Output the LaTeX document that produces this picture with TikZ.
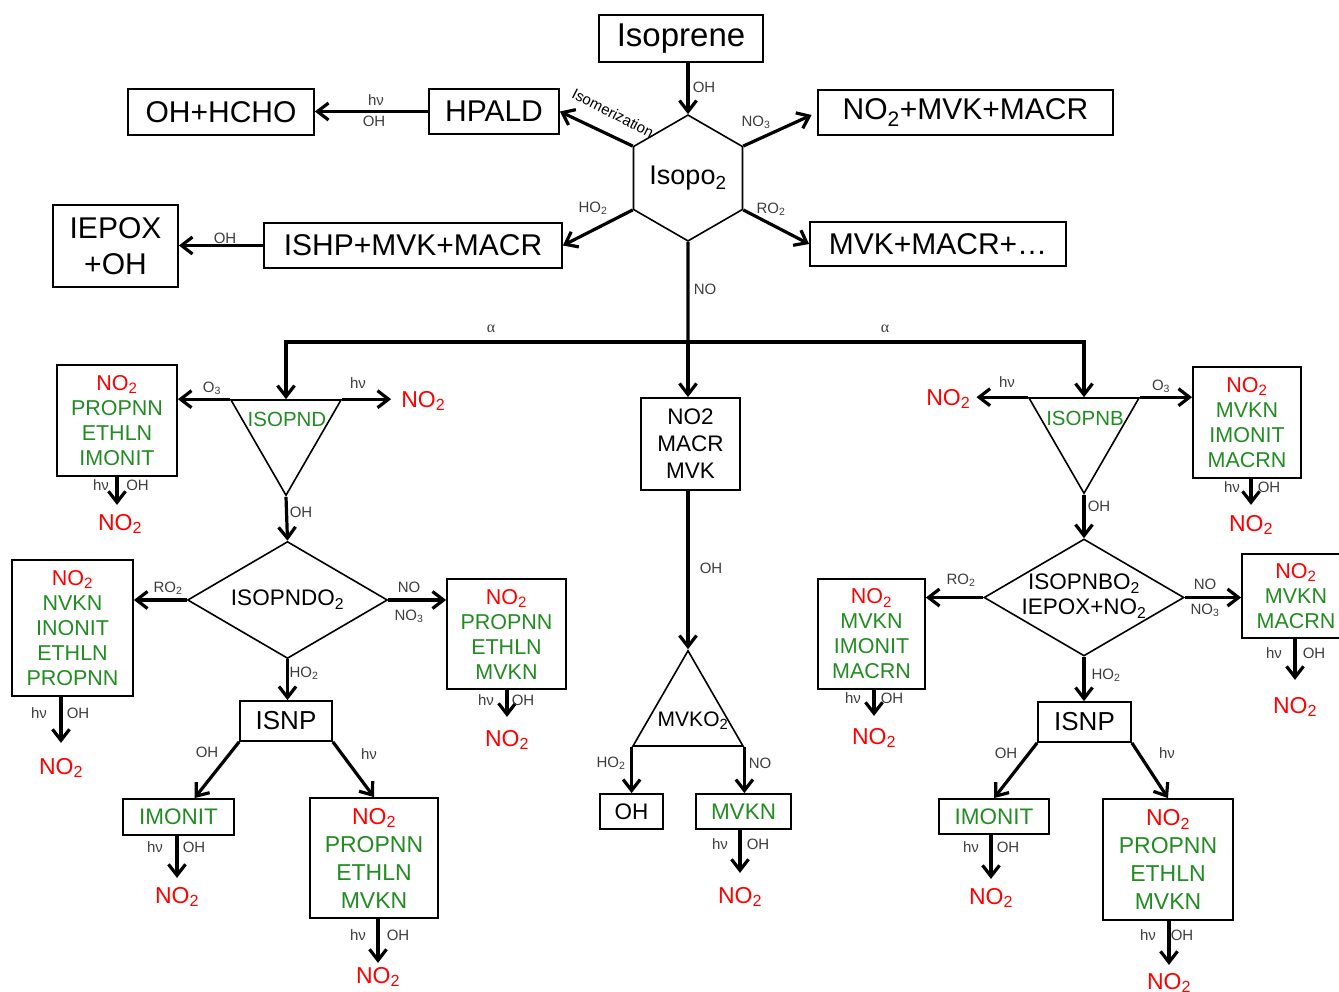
\documentclass[tikz,border=0pt]{standalone}
\usepackage{fontspec}
\setmainfont{Liberation Sans}
\newfontfamily\alphafont{Liberation Serif}
\usetikzlibrary{shapes.geometric,arrows.meta,calc}
\definecolor{nored}{RGB}{255,0,0}
\definecolor{nogreen}{RGB}{34,139,34}
\definecolor{labgray}{RGB}{60,60,60}
\newcommand{\tsub}[1]{\textsubscript{#1}}
\newcommand{\redtx}[1]{\textcolor{nored}{#1}}
\newcommand{\grtx}[1]{\textcolor{nogreen}{#1}}
\begin{document}
\begin{tikzpicture}[x=1pt,y=-1pt,
  bx/.style={draw, line width=1.8pt, inner sep=0pt, align=center},
  bigf/.style={font=\fontsize{30}{36}\selectfont},
  lstf/.style={font=\fontsize{21.5}{25}\selectfont},
  lstg/.style={font=\fontsize{23}{28}\selectfont},
  midf/.style={font=\fontsize{22.5}{26}\selectfont},
  arr/.style={line width=3.2pt, -{Straight Barb[length=11pt,width=17pt]}},
  lab/.style={font=\fontsize{15}{18}\selectfont, text=labgray, inner sep=0pt},
  outn/.style={font=\fontsize{23}{27}\selectfont, text=nored, inner sep=0pt},
  shp/.style={draw, line width=1.6pt, inner sep=0pt},
  tri/.style={shp, regular polygon, regular polygon sides=3, minimum size=127pt},
  dia/.style={shp, diamond, minimum width=200pt, minimum height=117pt, aspect=1.71},
]
\useasboundingbox (0,0) rectangle (1339,991);

% ---------- top part ----------
\node[bx, font=\fontsize{33}{40}\selectfont, minimum width=164pt, minimum height=47pt] (iso) at (681,38.5) {Isoprene};
\node[shp, regular polygon, regular polygon sides=6, shape border rotate=30, minimum size=114pt, font=\fontsize{27}{32}\selectfont] (hex) at (688,178) {Isopo\tsub{2}};
\node[bx,bigf,minimum width=130pt,minimum height=45pt] (hpald) at (494,111.5) {HPALD};
\node[bx,bigf,minimum width=186pt,minimum height=46pt] (ohhcho) at (221,112) {OH+HCHO};
\node[bx,bigf,minimum width=295pt,minimum height=45pt] (nomvk) at (965.5,112.5) {NO\tsub{2}+MVK+MACR};
\node[bx,bigf,minimum width=298pt,minimum height=45pt] (ishp) at (413,245.5) {ISHP+MVK+MACR};
\node[bx,bigf,minimum width=125pt,minimum height=82pt] (iepox) at (115.5,246) {IEPOX\\+OH};
\node[bx,bigf,minimum width=256pt,minimum height=44pt] (mvkm) at (938,244) {MVK+MACR+…};

\draw[arr] (iso.south -| hex.90) -- (hex.90);
\draw[arr] (hex.150) -- (hpald.east);
\draw[arr, shorten >=6pt] (hex.30) -- (nomvk.west);
\draw[arr] (hex.-150) -- (ishp.east);
\draw[arr] (hex.-30) -- (mvkm.west);
\draw[arr] (hpald.west) -- (hpald.west -| ohhcho.east);
\draw[arr] (ishp.west) -- (ishp.west -| iepox.east);

\node[lab] (la1) at (704,87) {OH};
\node[lab] (la2) at (756,122) {NO\tsub{3}};
\node[lab] (la3) at (593,208) {HO\tsub{2}};
\node[lab] (la4) at (771,209) {RO\tsub{2}};
\node[lab] (la5) at (705,289) {NO};
\node[lab] (la6) at (376,100) {hν};
\node[lab] (la7) at (374,121) {OH};
\node[lab] (la8) at (225,238) {OH};
\node[font=\fontsize{15}{18}\selectfont, inner sep=0pt, rotate=-27] (la9) at (613,113) {Isomerization};

% ---------- stem and branches ----------
\coordinate (junc) at (688,342);
\node[bx, minimum width=99pt, minimum height=92pt, font=\fontsize{22.5}{27}\selectfont] (cbox) at (690.5,444) {NO2\\MACR\\MVK};
\node[tri, shape border rotate=180] (isopnd) at (286,431.75) {};
\node[font=\fontsize{20.5}{24}\selectfont, text=nogreen, inner sep=0pt] (isopndT) at (287,419) {ISOPND};
\node[tri, shape border rotate=180] (isopnb) at (1084,429.75) {};
\node[font=\fontsize{20.5}{24}\selectfont, text=nogreen, inner sep=0pt] (isopnbT) at (1085,418) {ISOPNB};

\draw[line width=3.2pt] (hex.-90) -- (junc);
\draw[arr] (junc) -| (isopnd.90);
\draw[arr] (junc) -| (isopnb.90);
\draw[arr] (junc) -- (junc |- cbox.north);
\node[lab, font={\alphafont\fontsize{16}{18}\selectfont}] (la10) at (491,329) {α};
\node[lab, font={\alphafont\fontsize{16}{18}\selectfont}] (la11) at (885,329) {α};

% ---------- left branch ----------
\node[bx, lstf, minimum width=120pt, minimum height=111pt] (b1) at (117,420.5) {\redtx{NO\tsub{2}}\\\grtx{PROPNN}\\\grtx{ETHLN}\\\grtx{IMONIT}};
\node[outn] (nL) at (423.3,401) {NO\tsub{2}};
\node[outn] (n1) at (120,524) {NO\tsub{2}};
\node[dia, midf] (dL) at (287.5,600) {ISOPNDO\tsub{2}};
\node[bx, lstf, minimum width=121pt, minimum height=136pt] (bL2) at (72.5,628) {\redtx{NO\tsub{2}}\\\grtx{NVKN}\\\grtx{INONIT}\\\grtx{ETHLN}\\\grtx{PROPNN}};
\node[bx, lstf, minimum width=119pt, minimum height=110pt] (bR2) at (506.5,634) {\redtx{NO\tsub{2}}\\\grtx{PROPNN}\\\grtx{ETHLN}\\\grtx{MVKN}};
\node[outn] (n2) at (61,768) {NO\tsub{2}};
\node[outn] (n3) at (507,740) {NO\tsub{2}};
\node[bx, font=\fontsize{26}{30}\selectfont, minimum width=92pt, minimum height=40pt] (isnpL) at (286,721) {ISNP};
\node[bx, midf, text=nogreen, minimum width=111pt, minimum height=36pt] (imonL) at (178.5,817) {IMONIT};
\node[bx, lstg, minimum width=128pt, minimum height=120pt] (bL3) at (374,858) {\redtx{NO\tsub{2}}\\\grtx{PROPNN}\\\grtx{ETHLN}\\\grtx{MVKN}};
\node[outn] (n4) at (177,897) {NO\tsub{2}};
\node[outn] (n5) at (378,977) {NO\tsub{2}};

\draw[arr] (isopnd.150) -- (isopnd.150 -| b1.east);
\draw[arr, shorten >=10pt] (isopnd.30) -- (isopnd.30 -| nL.west);
\draw[arr, shorten >=9pt] (b1.south) -- (b1.south |- n1.north);
\draw[arr] (isopnd.-90) -- (dL.north);
\draw[arr] (dL.west) -- (dL.west -| bL2.east);
\draw[arr, shorten >=15pt] (n2.north |- bL2.south) -- (n2.north);
\draw[arr] (dL.east) -- (dL.east -| bR2.west);
\draw[arr, shorten >=13pt] (n3.north |- bR2.south) -- (n3.north);
\draw[arr] (dL.south) -- (dL.south |- isnpL.north);
\draw[arr] (isnpL.south west) -- ($(imonL.north)+(16,0)$);
\draw[arr] (isnpL.south east) -- (bL3.north);
\draw[arr, shorten >=9pt] (n4.north |- imonL.south) -- (n4.north);
\draw[arr, shorten >=4pt] (n5.north |- bL3.south) -- (n5.north);

\node[lab] (lb1) at (212,388) {O\tsub{3}};
\node[lab] (lb2) at (358,383) {hν};
\node[lab] (lb3) at (101,485) {hν};
\node[lab] (lb4) at (137.5,485) {OH};
\node[lab] (lb5) at (301,512) {OH};
\node[lab] (lb6) at (168,588) {RO\tsub{2}};
\node[lab] (lb7) at (39,713) {hν};
\node[lab] (lb8) at (78,713) {OH};
\node[lab] (lb9) at (409,587) {NO};
\node[lab] (lb10) at (409,616) {NO\tsub{3}};
\node[lab] (lb11) at (486,700) {hν};
\node[lab] (lb12) at (523,700) {OH};
\node[lab] (lb13) at (304,673) {HO\tsub{2}};
\node[lab] (lb14) at (207,752) {OH};
\node[lab] (lb15) at (369,754) {hν};
\node[lab] (lb16) at (155,847) {hν};
\node[lab] (lb17) at (194,847) {OH};
\node[lab] (lb18) at (358,935) {hν};
\node[lab] (lb19) at (398,935) {OH};

% ---------- centre branch ----------
\node[tri] (mvko) at (688,714.25) {};
\node[font=\fontsize{21}{24}\selectfont, inner sep=0pt] (mvkoT) at (693,721) {MVKO\tsub{2}};
\node[bx, midf, minimum width=63pt, minimum height=35pt] (ohbox) at (631.5,811.5) {OH};
\node[bx, midf, text=nogreen, minimum width=95pt, minimum height=35pt] (mvknbox) at (743.5,811.5) {MVKN};
\node[outn] (n6) at (740,897) {NO\tsub{2}};

\draw[arr] (cbox.south -| mvko.90) -- (mvko.90);
\draw[arr] (mvko.-150) -- (mvko.-150 |- ohbox.north);
\draw[arr] (mvko.-30) -- (mvko.-30 |- mvknbox.north);
\draw[arr, shorten >=14pt] (n6.north |- mvknbox.south) -- (n6.north);

\node[lab] (lc1) at (711,568) {OH};
\node[lab] (lc2) at (611,763) {HO\tsub{2}};
\node[lab] (lc3) at (760,763) {NO};
\node[lab] (lc4) at (720,844) {hν};
\node[lab] (lc5) at (758,844) {OH};

% ---------- right branch ----------
\node[bx, lstf, minimum width=108pt, minimum height=111pt] (b4) at (1247,422.5) {\redtx{NO\tsub{2}}\\\grtx{MVKN}\\\grtx{IMONIT}\\\grtx{MACRN}};
\node[outn] (nR) at (948.3,399) {NO\tsub{2}};
\node[outn] (n7) at (1251,525) {NO\tsub{2}};
\node[dia] (dR) at (1084,597.5) {};
\node[align=center, inner sep=0pt, font=\fontsize{22.5}{25}\selectfont] (dRt) at (1084,596) {ISOPNBO\tsub{2}\\IEPOX+NO\tsub{2}};
\node[bx, lstf, minimum width=107pt, minimum height=110pt] (b5) at (871.5,634) {\redtx{NO\tsub{2}}\\\grtx{MVKN}\\\grtx{IMONIT}\\\grtx{MACRN}};
\node[bx, lstf, minimum width=108pt, minimum height=84pt] (b6) at (1296,596) {\redtx{NO\tsub{2}}\\\grtx{MVKN}\\\grtx{MACRN}};
\node[outn] (n8) at (874,738) {NO\tsub{2}};
\node[outn] (n9) at (1295,707) {NO\tsub{2}};
\node[bx, font=\fontsize{26}{30}\selectfont, minimum width=93pt, minimum height=40pt] (isnpR) at (1084.5,722) {ISNP};
\node[bx, midf, text=nogreen, minimum width=110pt, minimum height=35pt] (imonR) at (994,816.5) {IMONIT};
\node[bx, lstg, minimum width=130pt, minimum height=121pt] (bR3) at (1168,859.5) {\redtx{NO\tsub{2}}\\\grtx{PROPNN}\\\grtx{ETHLN}\\\grtx{MVKN}};
\node[outn] (n10) at (991,898) {NO\tsub{2}};
\node[outn] (n11) at (1169,983) {NO\tsub{2}};

\draw[arr] (isopnb.30) -- (isopnb.30 -| b4.west);
\draw[arr, shorten >=6pt] (isopnb.150) -- (isopnb.150 -| nR.east);
\draw[arr, shorten >=10pt] (n7.north |- b4.south) -- (n7.north);
\draw[arr] (isopnb.-90) -- (dR.north);
\draw[arr] (dR.west) -- (dR.west -| b5.east);
\draw[arr, shorten >=12pt] (n8.north |- b5.south) -- (n8.north);
\draw[arr] (dR.east) -- (dR.east -| b6.west);
\draw[arr, shorten >=17pt] (n9.north |- b6.south) -- (n9.north);
\draw[arr] (dR.south) -- (dR.south |- isnpR.north);
\draw[arr] (isnpR.south west) -- (imonR.north);
\draw[arr] (isnpR.south east) -- (bR3.north);
\draw[arr, shorten >=9pt] (n10.north |- imonR.south) -- (n10.north);
\draw[arr, shorten >=8pt] (n11.north |- bR3.south) -- (n11.north);

\node[lab] (ld1) at (1007,382) {hν};
\node[lab] (ld2) at (1161,386) {O\tsub{3}};
\node[lab] (ld3) at (1232,487) {hν};
\node[lab] (ld4) at (1269,487) {OH};
\node[lab] (ld5) at (1099,506) {OH};
\node[lab] (ld6) at (961,580) {RO\tsub{2}};
\node[lab] (ld7) at (853,698) {hν};
\node[lab] (ld8) at (892,698) {OH};
\node[lab] (ld9) at (1205,584) {NO};
\node[lab] (ld10) at (1205,610) {NO\tsub{3}};
\node[lab] (ld11) at (1274,653) {hν};
\node[lab] (ld12) at (1314,653) {OH};
\node[lab] (ld13) at (1106,675) {HO\tsub{2}};
\node[lab] (ld14) at (1006,753) {OH};
\node[lab] (ld15) at (1167,753) {hν};
\node[lab] (ld16) at (971,847) {hν};
\node[lab] (ld17) at (1008,847) {OH};
\node[lab] (ld18) at (1148,935) {hν};
\node[lab] (ld19) at (1182,935) {OH};
\end{tikzpicture}
\end{document}
